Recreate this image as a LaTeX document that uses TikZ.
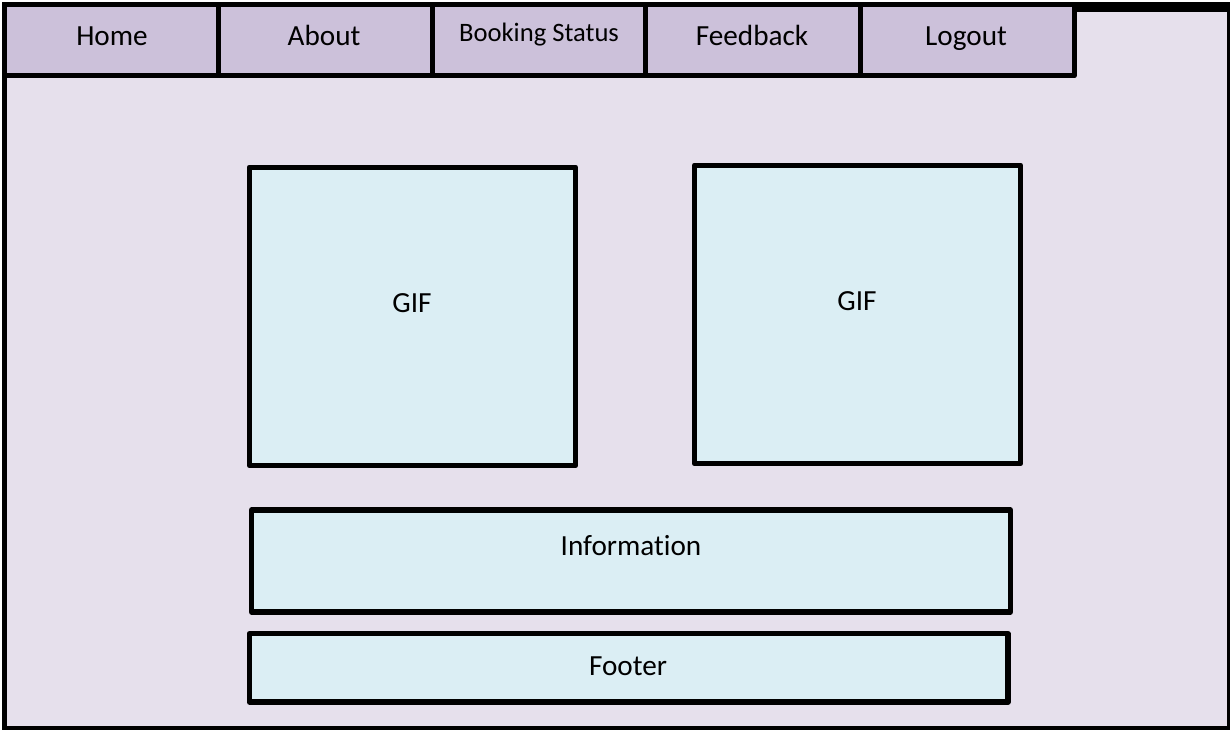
\documentclass[tikz,border=0pt]{standalone}
\usepackage{fontspec}
\setmainfont[Ligatures=NoCommon,Contextuals=NoAlternate]{Carlito}
\definecolor{pagefill}{HTML}{E6E0EC}
\definecolor{tabfill}{HTML}{CCC1DA}
\definecolor{boxfill}{HTML}{DBEEF4}
\tikzset{
  frame/.style={draw=black,fill=pagefill,line width=5pt,line join=miter},
  tabbox/.style={draw=black,fill=tabfill,line width=5pt,line join=round},
  panel/.style={draw=black,fill=boxfill,line width=5.3pt,line join=round},
  lbl/.style={inner sep=0pt,anchor=base,text=black,font=\fontsize{29.2}{30}\selectfont},
  lblsmall/.style={inner sep=0pt,anchor=base,text=black,font=\fontsize{26.6}{28}\selectfont}
}
\begin{document}
\begin{tikzpicture}[x=1pt,y=-1pt]
\useasboundingbox (0,0) rectangle (1230,729);
\fill[white] (0,0) rectangle (1230,729);
% outer page
\path[frame] (4.2,4.5) rectangle (1229.5,728.8);
\fill[black] (1074,2) rectangle (1230,12);
% tabs
\path[tabbox] (4.2,4.5) rectangle (218,75.8);
\path[tabbox] (218,4.5) rectangle (432,75.8);
\path[tabbox] (432,4.5) rectangle (645.5,75.8);
\path[tabbox] (645.5,4.5) rectangle (860,75.8);
\path[tabbox] (860,4.5) rectangle (1074.1,75.8);
\node[lbl] (home) at (112,45) {Home};
\node[lbl] (about) at (324,45) {About};
\node[lblsmall] (status) at (539,41.7) {Booking Status};
\node[lbl] (feedback) at (752,45) {Feedback};
\node[lbl] (logout) at (966,45) {Logout};
% panels
\path[panel] (249.3,167.2) rectangle (575.5,465.5);
\path[panel] (694.5,165.2) rectangle (1020.5,463.5);
\path[panel] (251.5,510) rectangle (1010.5,612);
\path[panel] (249.2,633.8) rectangle (1008,702);
\node[lbl] (gifa) at (412,312.8) {GIF};
\node[lbl] (gifb) at (857,310.8) {GIF};
\node[lbl] (info) at (631,555.7) {Information};
\node[lbl] (footer) at (628,675) {Footer};
\end{tikzpicture}
\end{document}
